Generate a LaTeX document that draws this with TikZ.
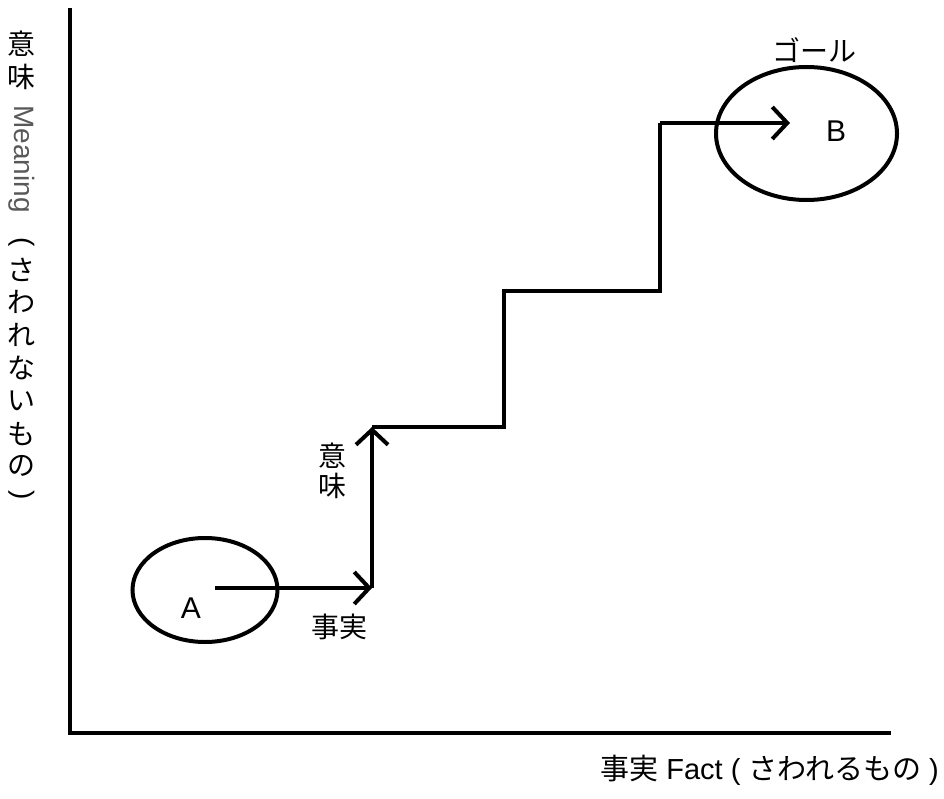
\documentclass[tikz,border=0pt]{standalone}
\usepackage{fontspec}
\setmainfont{Liberation Sans}
\newfontfamily\cjk{Noto Sans CJK JP}
\usetikzlibrary{arrows.meta,shapes.geometric}
\tikzset{
  thick line/.style={line width=4pt},
  stairarrow/.style={line width=4pt,-{Straight Barb[length=15pt,width=32pt]}},
  place/.style={draw,ellipse,line width=4pt,inner sep=0pt},
  lab/.style={font=\fontsize{28}{30}\selectfont,inner sep=0pt},
  jlab/.style={font=\cjk\fontsize{28}{30}\selectfont,inner sep=0pt}
}
\begin{document}
\begin{tikzpicture}[x=1pt,y=-1pt]
\useasboundingbox (0,0) rectangle (944,799);
% axes
\coordinate (ytop) at (69.5,8);
\coordinate (O) at (69.5,733);
\coordinate (xend) at (891,733);
\draw[thick line] (ytop) -- (O) -- (xend);
% start and goal
\node[place, minimum width=145pt, minimum height=104pt] (A) at (205,590) {};
\node[place, minimum width=181pt, minimum height=133pt] (B) at (806.5,133.5) {};
\node[lab, font=\fontsize{30}{32}\selectfont] (Alab) at (191,608) {A};
\node[lab, font=\fontsize{30}{32}\selectfont] (Blab) at (836,131) {B};
\node[jlab] (goal) at (814,50) {ゴール};
% stairs
\coordinate (s0) at (215,588);
\coordinate (c1) at (372,588);
\coordinate (c2) at (372,427);
\coordinate (c3) at (504,427);
\coordinate (c4) at (504,291);
\coordinate (c5) at (660,291);
\coordinate (c6) at (660,123);
\coordinate (e) at (790,123);
\draw[stairarrow] (s0) -- (c1);
\draw[stairarrow] (c1) -- (c2);
\draw[thick line] (c2) -- (c3) -- (c4) -- (c5) -- (c6);
\draw[stairarrow] (c6) -- (e);
\node[jlab] (fact) at (339,627) {事実};
\node[jlab] (mean1) at (332,456) {意};
\node[jlab] (mean2) at (332,486) {味};
% axis labels
\node[lab, font=\fontsize{29}{30}\selectfont, anchor=east] (xlab) at (939,770) {{\cjk 事実} Fact ( {\cjk さわれるもの} )};
\node[jlab] (y1) at (22,44) {意};
\node[jlab] (y2) at (22,77) {味};
\node[lab, text=black!65, rotate=-90] (y3) at (22,159) {Meaning};
\node[lab, rotate=-90] (y4) at (22,242) {(};
\node[jlab] (y5) at (22,270) {さ};
\node[jlab] (y6) at (22,302) {わ};
\node[jlab] (y7) at (22,335) {れ};
\node[jlab] (y8) at (22,368) {な};
\node[jlab] (y9) at (22,401) {い};
\node[jlab] (y10) at (22,434) {も};
\node[jlab] (y11) at (22,466) {の};
\node[lab, rotate=-90] (y12) at (22,495) {)};
\end{tikzpicture}
\end{document}
